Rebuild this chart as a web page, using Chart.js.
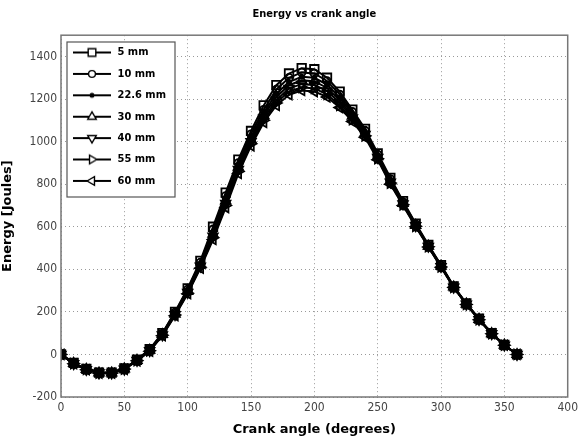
<!DOCTYPE html>
<html>
<head>
<meta charset="utf-8">
<script src="https://cdn.jsdelivr.net/npm/chart.js@4.4.0/dist/chart.umd.min.js"></script>
<style>
  html, body { margin: 0; padding: 0; background: #fff; }
  #wrap { width: 582px; height: 440px; }
</style>
</head>
<body>
<div id="wrap"><canvas id="myChart" width="582" height="440"></canvas></div>
<script>
// crank angle in degrees
const angles = [0, 10, 20, 30, 40, 50, 60, 70, 80, 90, 100, 110, 120, 130, 140, 150, 160, 170, 180,
  190, 200, 210, 220, 230, 240, 250, 260, 270, 280, 290, 300, 310, 320, 330, 340, 350, 360];

const seriesNames = ['5 mm', '10 mm', '22.6 mm', '30 mm', '40 mm', '55 mm', '60 mm'];

// energy in joules
const e5 = [0, -40, -68, -85, -85, -66, -25, 25, 100, 200, 310, 440, 600, 760, 915, 1050, 1170, 1265, 1320,
  1345, 1340, 1300, 1235, 1150, 1060, 945, 830, 720, 615, 515, 420, 320, 240, 168, 100, 45, 0];
const e10 = [0, -41, -69, -86, -86, -67, -26, 23, 98, 197, 305, 432, 588, 745, 900, 1035, 1150, 1245, 1300,
  1325, 1320, 1285, 1222, 1140, 1052, 940, 825, 716, 612, 512, 418, 319, 239, 167, 99, 45, 0];
const e22 = [0, -42, -70, -86, -86, -68, -27, 21, 96, 193, 300, 425, 575, 735, 890, 1020, 1135, 1225, 1280,
  1305, 1300, 1268, 1207, 1130, 1045, 935, 820, 713, 609, 510, 416, 318, 238, 166, 99, 44, 0];
const e30 = [0, -42, -70, -87, -87, -68, -28, 20, 94, 190, 296, 420, 565, 722, 880, 1010, 1123, 1210, 1265,
  1288, 1284, 1252, 1195, 1120, 1040, 930, 815, 710, 607, 509, 415, 317, 237, 165, 98, 44, 0];
const e40 = [0, -43, -71, -87, -87, -69, -28, 18, 92, 187, 292, 415, 556, 710, 870, 1000, 1110, 1195, 1250,
  1270, 1266, 1238, 1183, 1112, 1034, 926, 810, 707, 605, 508, 413, 316, 236, 164, 98, 44, 0];
const e55 = [0, -43, -71, -88, -88, -69, -29, 17, 90, 185, 288, 410, 548, 700, 860, 990, 1100, 1182, 1235,
  1255, 1250, 1222, 1170, 1103, 1027, 920, 805, 703, 602, 506, 411, 315, 235, 163, 97, 43, 0];
const e60 = [0, -44, -72, -88, -88, -70, -30, 15, 88, 182, 285, 405, 540, 690, 850, 980, 1090, 1170, 1220,
  1240, 1235, 1210, 1160, 1095, 1020, 915, 800, 700, 600, 505, 410, 315, 235, 163, 97, 43, 0];

const allSeries = [e5, e10, e22, e30, e40, e55, e60];

const xTicks = [0, 50, 100, 150, 200, 250, 300, 350, 400];
const yTicks = [-200, 0, 200, 400, 600, 800, 1000, 1200, 1400];

// marker styles matching the matlab symbols: s o . ^ v > <
const markers = [
  { style: 'rect', radius: 6, rot: 0, fill: 'rgba(255,255,255,0)' },
  { style: 'circle', radius: 3.8, rot: 0, fill: 'rgba(255,255,255,0)' },
  { style: 'circle', radius: 2, rot: 0, fill: '#000' },
  { style: 'triangle', radius: 5.5, rot: 0, fill: 'rgba(255,255,255,0)' },
  { style: 'triangle', radius: 5.5, rot: 180, fill: 'rgba(255,255,255,0)' },
  { style: 'triangle', radius: 5.5, rot: 90, fill: 'rgba(255,255,255,0)' },
  { style: 'triangle', radius: 5.5, rot: 270, fill: 'rgba(255,255,255,0)' }
];

function legendIcon(m) {
  const c = document.createElement('canvas');
  c.width = 40;
  c.height = 14;
  const g = c.getContext('2d');
  g.strokeStyle = '#000';
  g.lineWidth = 1.8;
  g.beginPath();
  g.moveTo(1, 7);
  g.lineTo(39, 7);
  g.stroke();
  g.fillStyle = m.fill === '#000' ? '#000' : '#fff';
  g.lineWidth = 1.4;
  Chart.helpers.drawPoint(g, { pointStyle: m.style, rotation: m.rot, radius: m.radius * 0.9, borderWidth: 1.4 }, 20, 7);
  return c;
}

const datasets = allSeries.map((vals, i) => ({
  label: seriesNames[i],
  data: vals.map((v, j) => ({ x: angles[j], y: v })),
  borderColor: '#000',
  borderWidth: 2,
  pointStyle: markers[i].style,
  pointRotation: markers[i].rot,
  pointRadius: markers[i].radius,
  pointBorderColor: '#000',
  pointBackgroundColor: markers[i].fill,
  pointBorderWidth: 1.8,
  tension: 0
}));

// legend box inside the axes (top-left), and title centred over the plot area
const LEGEND_BOX = { left: 67, top: 42, right: 175, bottom: 197 };

const frame = {
  id: 'frame',
  beforeDraw(chart) {
    const lg = chart.legend;
    const pad = lg.options.labels.padding;
    lg.left = LEGEND_BOX.left + 5 - pad;
    lg.top = LEGEND_BOX.top + 5 - pad;
    const a = chart.chartArea;
    const tb = chart.titleBlock;
    tb.left = a.left;
    tb.right = a.right;
    tb.width = a.right - a.left;
  },
  afterDatasetsDraw(chart) {
    const ctx = chart.ctx;
    const a = chart.chartArea;
    ctx.save();
    ctx.strokeStyle = '#777';
    ctx.lineWidth = 1.5;
    ctx.strokeRect(a.left, a.top, a.right - a.left, a.bottom - a.top);

    const b = LEGEND_BOX;
    ctx.fillStyle = '#fff';
    ctx.fillRect(b.left, b.top, b.right - b.left, b.bottom - b.top);
    ctx.strokeStyle = '#555';
    ctx.lineWidth = 1.2;
    ctx.strokeRect(b.left, b.top, b.right - b.left, b.bottom - b.top);
    ctx.restore();
    chart.legend.draw();
  }
};

const tickFont = { family: "'Liberation Sans Narrow', 'DejaVu Sans Condensed', sans-serif", size: 12 };

new Chart(document.getElementById('myChart'), {
  type: 'line',
  data: { datasets: datasets },
  plugins: [frame],
  options: {
    responsive: false,
    animation: false,
    layout: { padding: { left: 0, right: 13, top: 0, bottom: 0 } },
    plugins: {
      title: {
        display: true,
        text: 'Energy vs crank angle',
        color: '#000',
        font: { family: "'Liberation Sans Narrow', 'DejaVu Sans Condensed', sans-serif", size: 11, weight: 'bold' },
        padding: { top: 8, bottom: 14 }
      },
      legend: {
        position: 'chartArea',
        align: 'start',
        labels: {
          usePointStyle: true,
          pointStyleWidth: 40,
          padding: 10.4,
          color: '#000',
          font: { family: "'Liberation Sans Narrow', 'DejaVu Sans Condensed', sans-serif", size: 11, weight: 'bold' },
          generateLabels(chart) {
            return chart.data.datasets.map((ds, i) => ({
              text: ds.label,
              pointStyle: legendIcon(markers[i]),
              rotation: 0,
              fillStyle: '#000',
              strokeStyle: '#000',
              lineWidth: 0,
              fontColor: '#000',
              hidden: false,
              datasetIndex: i
            }));
          }
        }
      },
      tooltip: { enabled: false }
    },
    scales: {
      x: {
        type: 'linear',
        min: 0,
        max: 400,
        afterBuildTicks(scale) { scale.ticks = xTicks.map(v => ({ value: v })); },
        afterFit(scale) { scale.height = 43; },
        ticks: { color: '#444', font: tickFont, padding: 4, maxRotation: 0, callback: v => String(v) },
        grid: { color: '#999', lineWidth: 1, drawTicks: false },
        border: { display: false, dash: [1, 3] },
        title: {
          display: true,
          text: 'Crank angle (degrees)',
          color: '#000',
          font: { family: "'DejaVu Sans', sans-serif", size: 13, weight: 'bold' },
          padding: { top: 0, bottom: 3 }
        }
      },
      y: {
        min: -200,
        max: 1500,
        afterBuildTicks(scale) { scale.ticks = yTicks.map(v => ({ value: v })); },
        afterFit(scale) { scale.width = 61; },
        ticks: { color: '#444', font: tickFont, padding: 4, callback: v => String(v) },
        grid: { color: '#999', lineWidth: 1, drawTicks: false },
        border: { display: false, dash: [1, 3] },
        title: {
          display: true,
          text: 'Energy [Joules]',
          color: '#000',
          font: { family: "'DejaVu Sans', sans-serif", size: 13, weight: 'bold' },
          padding: { top: 0, bottom: 6 }
        }
      }
    }
  }
});
</script>
</body>
</html>
